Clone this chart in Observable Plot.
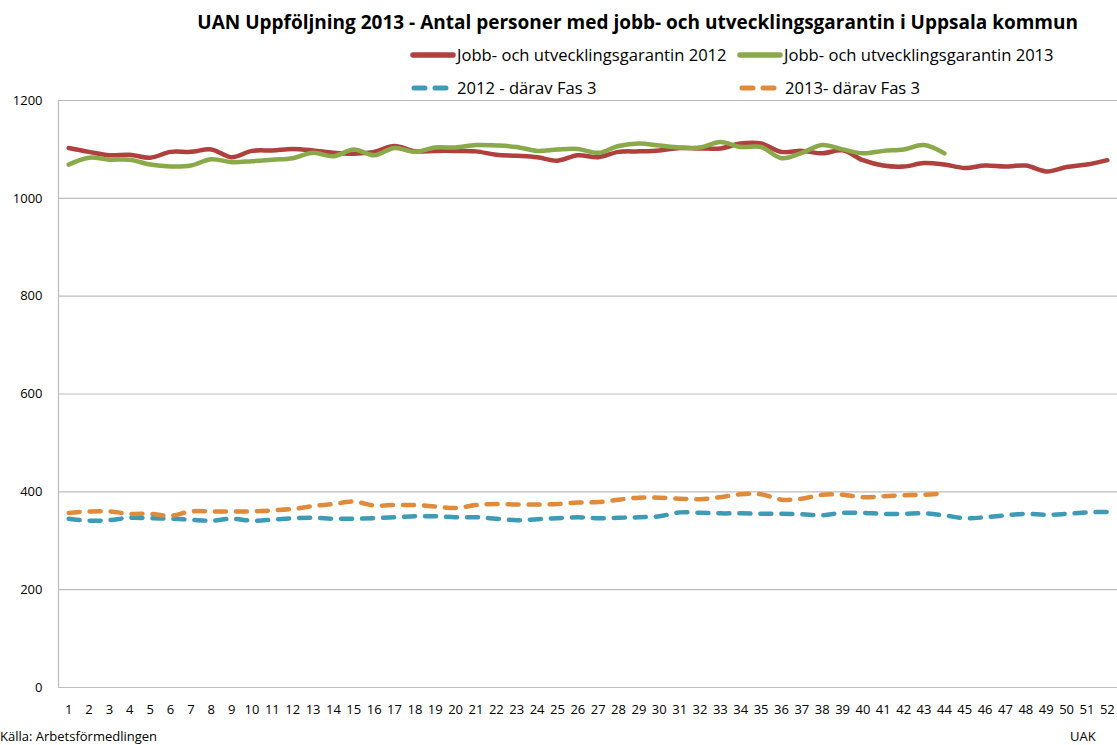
<!DOCTYPE html>
<html><head><meta charset="utf-8">
<script src="https://cdn.jsdelivr.net/npm/d3@7"></script>
<script src="https://cdn.jsdelivr.net/npm/@observablehq/plot@0.6"></script>
<style>
body{margin:0;background:#fff;font-family:"Open Sans",sans-serif;}
#wrap{position:relative;width:1117px;height:745px;overflow:hidden;background:#fff;}
#title{position:absolute;left:0;width:1117px;top:9px;text-align:right;padding-right:39px;box-sizing:border-box;font-weight:bold;font-size:19px;color:#000;white-space:nowrap;z-index:2;}
#legend{position:absolute;left:0;top:0;z-index:3;}
.leg{position:absolute;font-size:16.6px;color:#000;white-space:nowrap;display:flex;align-items:center;line-height:20px;}
#chart{position:absolute;left:0;top:90px;z-index:1;}
#src{position:absolute;left:0;top:729px;font-size:13px;line-height:15px;z-index:2;}
#uak{position:absolute;left:1070px;top:729px;font-size:13px;line-height:15px;z-index:2;}
</style></head>
<body><div id="wrap">
<div id="chart"></div>
<div id="title">UAN Uppföljning 2013 - Antal personer med jobb- och utvecklingsgarantin i Uppsala kommun</div>
<div id="legend"></div>
<div id="src">Källa: Arbetsförmedlingen</div>
<div id="uak">UAK</div>
</div>
<script>
const weeks = d3.range(1, 53);
const jug2012 = [1103,1095,1088,1089,1083,1095,1095,1100,1084,1097,1098,1101,1098,1093,1091,1095,1107,1096,1097,1097,1096,1089,1087,1084,1077,1088,1084,1095,1096,1098,1103,1102,1102,1112,1112,1095,1097,1092,1098,1078,1067,1065,1072,1069,1062,1067,1065,1067,1055,1064,1069,1078];
const jug2013 = [1069,1083,1079,1079,1069,1065,1067,1080,1074,1076,1079,1082,1093,1086,1100,1088,1103,1095,1104,1104,1109,1108,1105,1097,1100,1101,1093,1107,1112,1108,1104,1104,1115,1105,1105,1082,1093,1109,1100,1092,1097,1100,1109,1092];
const fas3_2012 = [345,341,342,347,346,345,343,341,345,341,343,346,347,345,345,346,348,350,350,348,348,345,342,344,346,348,346,347,348,350,358,357,356,356,355,355,354,352,357,357,355,355,356,352,346,348,352,355,353,355,358,359];
const fas3_2013 = [357,360,360,355,355,351,360,360,360,360,362,365,371,375,380,372,373,373,370,367,373,375,374,374,375,378,379,384,388,388,386,385,389,395,395,384,386,394,394,389,391,393,394,397];
const yTicks = [0,200,400,600,800,1000,1200];
const seriesNames = ["Jobb- och utvecklingsgarantin 2012","Jobb- och utvecklingsgarantin 2013","2012 - därav Fas 3","2013- därav Fas 3"];
const colors = ["#B0403D","#89A94A","#3E9BB5","#E08A3C"];

const toRows = (vals, s) => vals.map((v,i)=>({week: weeks[i], value: v, series: s}));
const rows = [
  toRows(jug2012, seriesNames[0]),
  toRows(jug2013, seriesNames[1]),
  toRows(fas3_2012, seriesNames[2]),
  toRows(fas3_2013, seriesNames[3])
];

const plot = Plot.plot({
  width: 1117,
  height: 630,
  marginTop: 10,
  marginBottom: 33,
  marginLeft: 58,
  marginRight: 0,
  style: {fontFamily: '"Open Sans",sans-serif', fontSize: "13px", color: "#000", background: "transparent", overflow: "visible"},
  x: {domain: [0.5, 52.5], ticks: weeks, tickFormat: d => String(d), tickSize: 0, tickPadding: 17, label: null},
  y: {domain: [0, 1200], ticks: yTicks, tickFormat: d => String(d), tickSize: 0, tickPadding: 16, label: null},
  marks: [
    Plot.ruleY(yTicks, {stroke: "#bdbdbd", strokeWidth: 1.2}),
    Plot.ruleX([0.5], {stroke: "#bdbdbd", strokeWidth: 1.2}),
    Plot.line(rows[2], {x: "week", y: "value", stroke: colors[2], strokeWidth: 4.5, strokeDasharray: "11,10", strokeLinecap: "round", curve: "catmull-rom"}),
    Plot.line(rows[3], {x: "week", y: "value", stroke: colors[3], strokeWidth: 4.5, strokeDasharray: "11,10", strokeLinecap: "round", curve: "catmull-rom"}),
    Plot.line(rows[0], {x: "week", y: "value", stroke: colors[0], strokeWidth: 4.5, strokeLinecap: "round", curve: "catmull-rom"}),
    Plot.line(rows[1], {x: "week", y: "value", stroke: colors[1], strokeWidth: 4.5, strokeLinecap: "round", curve: "catmull-rom"})
  ]
});
document.getElementById("chart").appendChild(plot);

// legend
const legPos = [[410,45,false],[737,45,false],[410,78,true],[738,78,true]];
const leg = document.getElementById("legend");
seriesNames.forEach((name,i)=>{
  const [lx,ly,dashed] = legPos[i];
  const d = document.createElement("div");
  d.className = "leg";
  d.style.left = lx + "px";
  d.style.top = ly + "px";
  const w = dashed ? 40 : 46;
  const line = dashed
    ? `<line x1="4" y1="8" x2="${w-4}" y2="8" stroke="${colors[i]}" stroke-width="5" stroke-linecap="round" stroke-dasharray="11,10"/>`
    : `<line x1="3" y1="8" x2="${w-3}" y2="8" stroke="${colors[i]}" stroke-width="5.5" stroke-linecap="round"/>`;
  d.innerHTML = `<svg width="${w}" height="16">${line}</svg><span style="margin-left:${dashed?7:1}px">${name}</span>`;
  leg.appendChild(d);
});
</script>
</body></html>
